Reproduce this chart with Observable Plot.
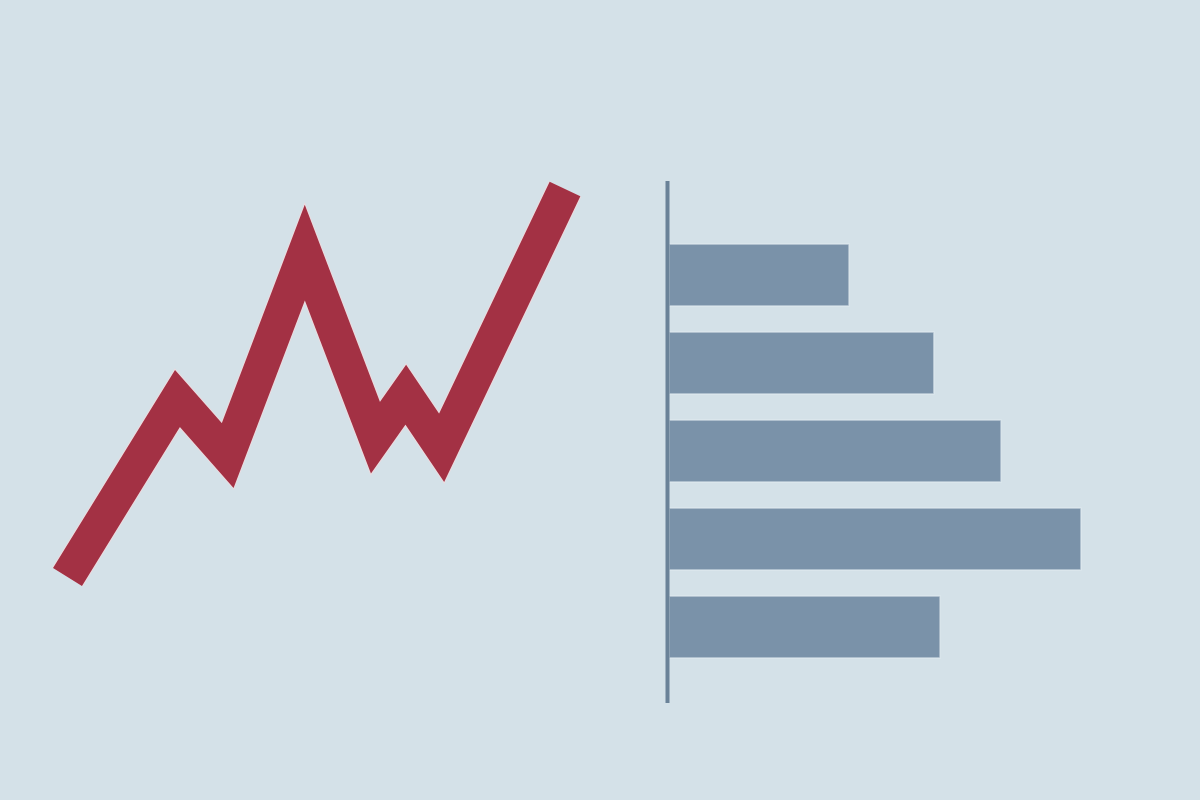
<!DOCTYPE html>
<html>
<head>
<meta charset="utf-8">
<script src="https://cdn.jsdelivr.net/npm/d3@7"></script>
<script src="https://cdn.jsdelivr.net/npm/@observablehq/plot@0.6"></script>
<style>
  html, body { margin: 0; padding: 0; width: 1200px; height: 800px; background: #d4e1e8; overflow: hidden; }
  #wrap { position: relative; width: 1200px; height: 800px; }
  #wrap > svg { position: absolute; left: 0; top: 0; }
</style>
</head>
<body>
<div id="wrap"></div>
<script>
// Line series (left)
const lineX = [0, 22.1, 32.2, 47.7, 61.9, 68.0, 75.2, 100];
const lineY = [0, 46.0, 31.3, 83.6, 35.9, 47.0, 33.3, 100];

// Bar series (right)
const barCategories = ["A", "B", "C", "D", "E"];
const barValues = [43.7, 64.3, 80.6, 100, 65.8];

const lineData = lineX.map((x, i) => ({x, y: lineY[i]}));
const barData = barCategories.map((c, i) => ({cat: c, value: barValues[i]}));

const wrap = document.getElementById("wrap");

const lineOpts = {
  x: "x", y: "y",
  strokeLinejoin: "miter",
  strokeLinecap: "butt",
  strokeMiterlimit: 10
};

const linePlot = Plot.plot({
  width: 1200,
  height: 800,
  marginLeft: 67,
  marginRight: 635.5,
  marginTop: 188.5,
  marginBottom: 223.5,
  style: {background: "transparent", overflow: "visible"},
  x: {domain: [0, 100], axis: null},
  y: {domain: [0, 100], axis: null},
  marks: [
    Plot.line(lineData, {...lineOpts, stroke: "#f1d9dc", strokeOpacity: 0.8, strokeWidth: 36}),
    Plot.line(lineData, {...lineOpts, stroke: "#a33144", strokeWidth: 34})
  ]
});
wrap.appendChild(linePlot);

const barPlot = Plot.plot({
  width: 1200,
  height: 800,
  marginLeft: 669,
  marginRight: 119,
  marginTop: 181,
  marginBottom: 97,
  style: {background: "transparent", overflow: "visible"},
  x: {domain: [0, 100], axis: null},
  y: {domain: barCategories, range: [242, 659], paddingInner: 0.3, paddingOuter: 0, axis: null},
  marks: [
    Plot.barX(barData, {x: "value", y: "cat", fill: "#7a92a9", stroke: "#dfeaf0", strokeWidth: 1.5, strokeOpacity: 0.7}),
    Plot.ruleX([0], {stroke: "#6a8298", strokeWidth: 4, dx: -2})
  ]
});
wrap.appendChild(barPlot);
</script>
</body>
</html>
